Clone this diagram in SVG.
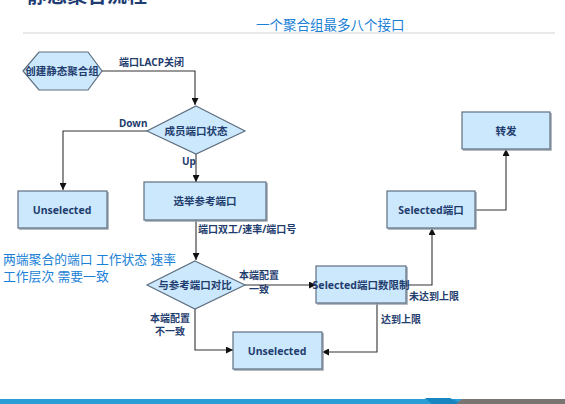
<svg xmlns="http://www.w3.org/2000/svg" width="565" height="404" viewBox="0 0 565 404">
<style>
text{font-family:"Noto Sans","Noto Sans CJK SC",sans-serif}
.node{fill:#cce8fd;stroke:#5f6f80;stroke-width:1.2}
.sh{fill:none;stroke:#9aa4ad;stroke-width:1.5}
.nt{font-size:10.5px;font-weight:bold;fill:#1f3d6e;text-anchor:middle;dominant-baseline:central}
.lb{font-size:10px;font-weight:bold;fill:#1f3d6e}
.conn{fill:none;stroke:#333;stroke-width:1.1}
.blue{font-size:12.8px;fill:#1a7fd6}
</style>
<defs>
<marker id="ah" viewBox="0 0 10 10" refX="10" refY="5" markerWidth="7" markerHeight="7" markerUnits="userSpaceOnUse" orient="auto">
<path d="M0,0 L10,5 L0,10 z" fill="#111"/>
</marker>
</defs>
<rect width="565" height="404" fill="#fff"/>
<text x="27" y="3" font-size="20" font-weight="bold" fill="#1f3d73">静态聚合流程</text>
<line x1="23" y1="33" x2="555" y2="33" stroke="#e2e2e2" stroke-width="1.5"/>
<text x="256" y="30" font-size="13.5" fill="#1a7fd6">一个聚合组最多八个接口</text>
<text class="blue" x="3" y="264">两端聚合的端口 工作状态 速率</text>
<text class="blue" x="3" y="281">工作层次 需要一致</text>

<g id="connectors">
<path class="conn" d="M102,71 H195 V105" marker-end="url(#ah)"/>
<path class="conn" d="M147,131 H63 V190" marker-end="url(#ah)"/>
<path class="conn" d="M196,154 V182" marker-end="url(#ah)"/>
<path class="conn" d="M196,220 V260" marker-end="url(#ah)"/>
<path class="conn" d="M245,285 H316" marker-end="url(#ah)"/>
<path class="conn" d="M195,309 V350 H233" marker-end="url(#ah)"/>
<path class="conn" d="M377,303 V352 H322" marker-end="url(#ah)"/>
<path class="conn" d="M406,285 H432 V228" marker-end="url(#ah)"/>
<path class="conn" d="M475,210 H506 V149" marker-end="url(#ah)"/>
<text class="lb" x="119" y="66">端口LACP关闭</text>
<text class="lb" x="119" y="127">Down</text>
<text class="lb" x="182" y="165">Up</text>
<text class="lb" x="198" y="233">端口双工/速率/端口号</text>
<text class="lb" x="259" y="279" text-anchor="middle">本端配置</text>
<text class="lb" x="259" y="293" text-anchor="middle">一致</text>
<text class="lb" x="170" y="322" text-anchor="middle">本端配置</text>
<text class="lb" x="170" y="335" text-anchor="middle">不一致</text>
<text class="lb" x="381" y="323">达到上限</text>
<text class="lb" x="409" y="300">未达到上限</text>
</g>

<g id="n-create">
<polygon class="node" points="23,71 39,52 88,52 102,71 88,90 39,90"/>
<text class="nt" x="62" y="71">创建静态聚合组</text>
</g>
<g id="n-member">
<polygon class="node" points="196,106 245,131 196,154 147,131"/>
<text class="nt" x="196" y="131">成员端口状态</text>
</g>
<g id="n-unsel1">
<path class="sh" d="M19,229 H108 V192"/>
<rect class="node" x="18" y="191" width="89" height="37"/>
<text class="nt" x="62" y="210">Unselected</text>
</g>
<g id="n-elect">
<path class="sh" d="M145,221 H267 V183"/>
<rect class="node" x="144" y="182" width="122" height="38"/>
<text class="nt" x="205" y="201">选举参考端口</text>
</g>
<g id="n-compare">
<polygon class="node" points="195,261 245,285 195,309 147,285"/>
<text class="nt" x="195" y="285">与参考端口对比</text>
</g>
<g id="n-limit">
<path class="sh" d="M317,304 H407 V267"/>
<rect class="node" x="316" y="266" width="90" height="37"/>
<text class="nt" x="361" y="285">Selected端口数限制</text>
</g>
<g id="n-unsel2">
<path class="sh" d="M234,370 H323 V333"/>
<rect class="node" x="233" y="332" width="89" height="37"/>
<text class="nt" x="277" y="351">Unselected</text>
</g>
<g id="n-selected">
<path class="sh" d="M388,229 H476 V192"/>
<rect class="node" x="387" y="191" width="88" height="37"/>
<text class="nt" x="431" y="210">Selected端口</text>
</g>
<g id="n-forward">
<path class="sh" d="M463,150 H551 V113"/>
<rect class="node" x="462" y="112" width="88" height="37"/>
<text class="nt" x="506" y="131">转发</text>
</g>

<rect x="0" y="399" width="462" height="5" fill="#2a9fd6"/>
<polygon points="425,398 450,398 462,404 432,404" fill="#1786c0"/>
<polygon points="462,399 565,399 565,404 456,404" fill="#7a7570"/>
</svg>
